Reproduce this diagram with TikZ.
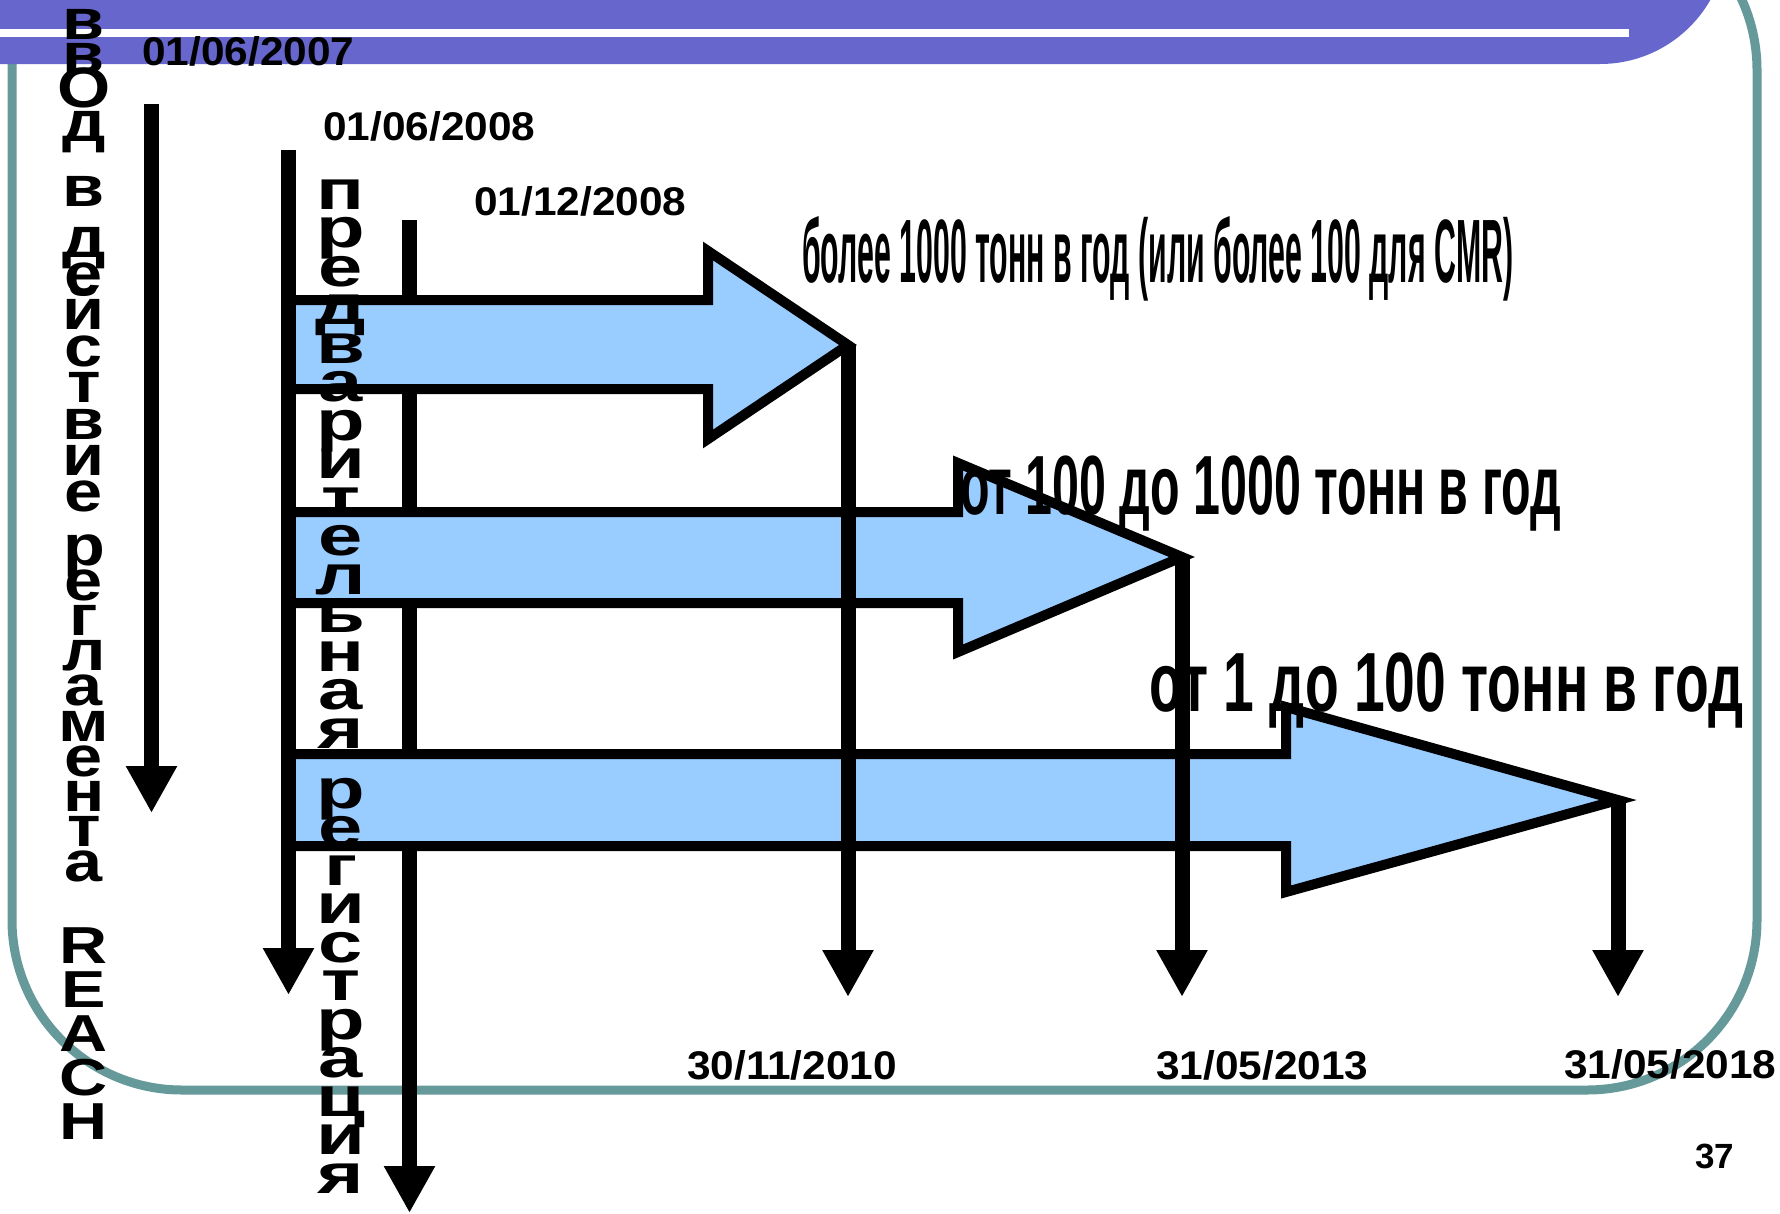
\documentclass[tikz,border=0pt]{standalone}
\usepackage{fontspec}
\usepackage{graphicx}
\setmainfont{Liberation Sans}
\newfontfamily\stackfont[FakeStretch=1.2]{Liberation Sans}
\newfontfamily\wideletters[FakeStretch=1.42]{Liberation Sans}
\newfontfamily\reachfont[FakeStretch=1.28]{Liberation Sans}
\usetikzlibrary{arrows.meta}
\definecolor{framegreen}{RGB}{102,153,153}
\definecolor{bandblue}{RGB}{102,102,204}
\definecolor{arrowblue}{RGB}{153,204,255}
\newcommand{\fitw}[2]{\resizebox{#1}{\height}{#2}}

\begin{document}
\begin{tikzpicture}[x=1pt,y=-1pt,
	datum/.style={anchor=base west,inner sep=0pt,font=\bfseries\fontsize{40}{44}\selectfont},
	lcol/.style={anchor=base,inner sep=0pt,text height=0.5em,text depth=0pt,font=\stackfont\bfseries\fontsize{57}{60}\selectfont},
	rcol/.style={anchor=base,inner sep=0pt,text height=0.5em,text depth=0pt,font=\wideletters\bfseries\fontsize{56}{60}\selectfont},
	reach/.style={anchor=base,inner sep=0pt,text height=0.7em,text depth=0pt,font=\reachfont\bfseries\fontsize{52}{56}\selectfont},
	band/.style={anchor=base west,inner sep=0pt,font=\bfseries\fontsize{84}{90}\selectfont},
	fat/.style={fill=arrowblue,draw=black,line width=10pt,line join=miter},
	down/.style={line width=15pt,-{Triangle[width=48pt,length=47pt]}}]
  %rammen
	\useasboundingbox (0,0) rectangle (1780,1213);
	\fill[white] (0,0) rectangle (1780,1213);
	\clip (0,0) rectangle (1780,1213);
	\draw[framegreen,line width=9pt,rounded corners=170pt] (12,-100) rectangle (1757,1090);
  %overskrift-baand
	\fill[bandblue,rounded corners=127pt] (-200,-200) rectangle (1727,64);
	\fill[white] (0,28.5) rectangle (1629,36.5);

  %pil for 01/12/2008 (under de brede pile)
	\coordinate (c0) at (409.5,220);
	\coordinate (c1) at (409.5,1213);
	\draw[down] (c0) -- (c1);

  %brede pile
	\draw[fat] (290,300) -- (708,300) -- (708,251) -- (848,345) -- (708,439) -- (708,389) -- (290,389) -- cycle;
	\draw[fat] (290,512) -- (958,512) -- (958,463) -- (1182,557) -- (958,652) -- (958,603) -- (290,603) -- cycle;
	\draw[fat] (290,754) -- (1286,754) -- (1286,707) -- (1618,800) -- (1286,892) -- (1286,846) -- (290,846) -- cycle;

  %lodrette pile
	\coordinate (a0) at (151.5,104);
	\coordinate (a1) at (151.5,813);
	\coordinate (b0) at (288.5,150);
	\coordinate (b1) at (288.5,995);
	\draw[down] (a0) -- (a1);
	\draw[down] (b0) -- (b1);
	\coordinate (tip1) at (848,345);
	\coordinate (end1) at (848,997);
	\coordinate (tip2) at (1182,557);
	\coordinate (end2) at (1182,997);
	\coordinate (tip3) at (1618,800);
	\coordinate (end3) at (1618,997);
	\draw[down] (tip1) -- (end1);
	\draw[down] (tip2) -- (end2);
	\draw[down] (tip3) -- (end3);

  %datoer
	\node[datum] (d2007) at (142,65) {\scalebox{1.06}[1]{01/06/2007}};
	\node[datum] (d2008a) at (323,140) {\scalebox{1.06}[1]{01/06/2008}};
	\node[datum] (d2008b) at (474,215) {\scalebox{1.06}[1]{01/12/2008}};
	\node[datum] (d2010) at (687,1079) {\scalebox{1.06}[1]{30/11/2010}};
	\node[datum] (d2013) at (1156,1079) {\scalebox{1.06}[1]{31/05/2013}};
	\node[datum] (d2018) at (1564,1078) {\scalebox{1.06}[1]{31/05/2018}};
	\node[datum,font=\bfseries\fontsize{35}{38}\selectfont] (side) at (1695,1168) {37};

  %tekst ved pilene
	\node[band,font=\bfseries\fontsize{90}{96}\selectfont] (t1) at (802,282) {\fitw{711pt}{более 1000 тонн в год (или более 100 для CMR)}};
	\node[band] (t2) at (960,514) {\fitw{601pt}{от 100 до 1000 тонн в год}};
	\node[band] (t3) at (1149,711) {\fitw{594pt}{от 1 до 100 тонн в год}};

  %lodret tekst venstre
	\foreach \b [count=\i from 0] in {в,в,О,д}
		\node[lcol] (w\i) at (84,{39+34*\i}) {\b};
	\node[lcol] (v0) at (84,206) {в};
	\foreach \b [count=\i from 0] in {д,е,й,с,т,в,и,е}
		\node[lcol] (d\i) at (84,{257+36.4*\i}) {\b};
	\foreach \b [count=\i from 0] in {р,е,г,л,а,м,е,н,т,а}
		\node[lcol] (l\i) at (84,{565+35.2*\i}) {\b};
	\foreach \b [count=\i from 0] in {R,E,A,C,H}
		\node[reach] (r\i) at (84,{963+44*\i}) {\b};

  %lodret tekst hoejre
	\foreach \b [count=\i from 0] in {п,р,е,д,в,а,р,и,т,е,л,ь,н,а,я}
		\node[rcol] (p\i) at (341,{209+38.5*\i}) {\b};
	\foreach \b [count=\i from 0] in {р,е,г,и,с,т,р,а,ц,и,я}
		\node[rcol] (g\i) at (341,{808+38.5*\i}) {\b};
\end{tikzpicture}
\end{document}
